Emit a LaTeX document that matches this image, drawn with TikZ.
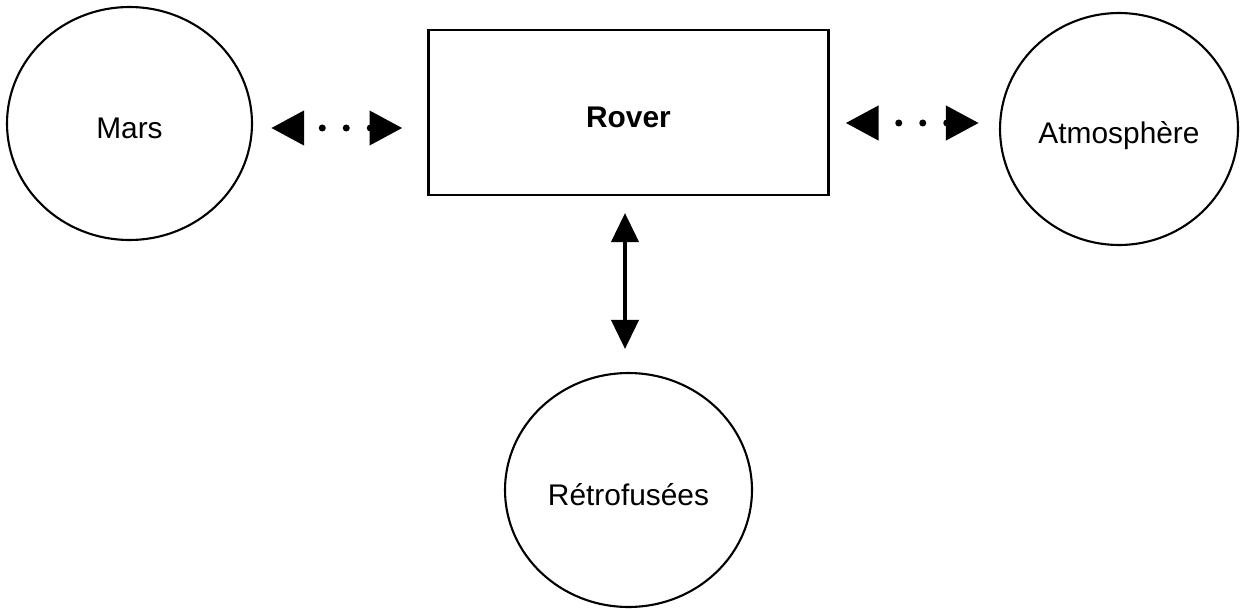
\documentclass[tikz,border=0pt]{standalone}
\usepackage{fontspec}
\setmainfont{Liberation Sans}
\usetikzlibrary{shapes.geometric, arrows.meta}

\tikzset{
	body/.style = {draw, ellipse, line width=1.2pt, inner sep=0pt,
		text height=0.6cm, text depth=0pt,
		font=\fontsize{17}{20}\selectfont},
	rovbox/.style = {draw, rectangle, line width=1.2pt, minimum width=8cm,
		minimum height=3.3cm, text height=0.6cm, text depth=0pt,
		font=\fontsize{17}{20}\selectfont\bfseries},
	dotlink/.style = {line width=0.14cm, line cap=round,
		dash pattern=on 0pt off 0.48cm,
		{Triangle[length=0.66cm, width=0.66cm]}-{Triangle[length=0.66cm, width=0.66cm]}},
	thrust/.style = {line width=0.08cm,
		{Triangle[length=0.58cm, width=0.54cm]}-{Triangle[length=0.58cm, width=0.54cm]}}
}

\begin{document}
\begin{tikzpicture}[x=0.02cm, y=-0.02cm]
	\useasboundingbox (0,0) rectangle (1243,608);
	\node[body, minimum width=4.9cm, minimum height=4.66cm] (mars) at (129.5,123.5) {Mars};
	\node[rovbox] (rover) at (628.5,112.5) {Rover};
	\node[body, minimum width=4.76cm, minimum height=4.64cm] (atmo) at (1119,129) {Atmosphère};
	\node[body, minimum width=4.94cm, minimum height=4.68cm] (retro) at (628.5,490) {Rétrofusées};

	\draw[dotlink, dash phase=0.08cm, shorten <=0.36cm, shorten >=0.5cm]
		([yshift=-0.09cm]mars.east) -- ([yshift=-0.09cm]mars.east -| rover.west);
	\draw[dotlink, dash phase=0.04cm, shorten <=0.32cm, shorten >=0.4cm]
		([yshift=-0.21cm]rover.east) -- ([yshift=-0.21cm]rover.east -| atmo.west);
	\draw[thrust, shorten <=0.34cm, shorten >=0.46cm]
		([xshift=-0.07cm]rover.south) -- ([xshift=-0.07cm]retro.north);
\end{tikzpicture}
\end{document}
